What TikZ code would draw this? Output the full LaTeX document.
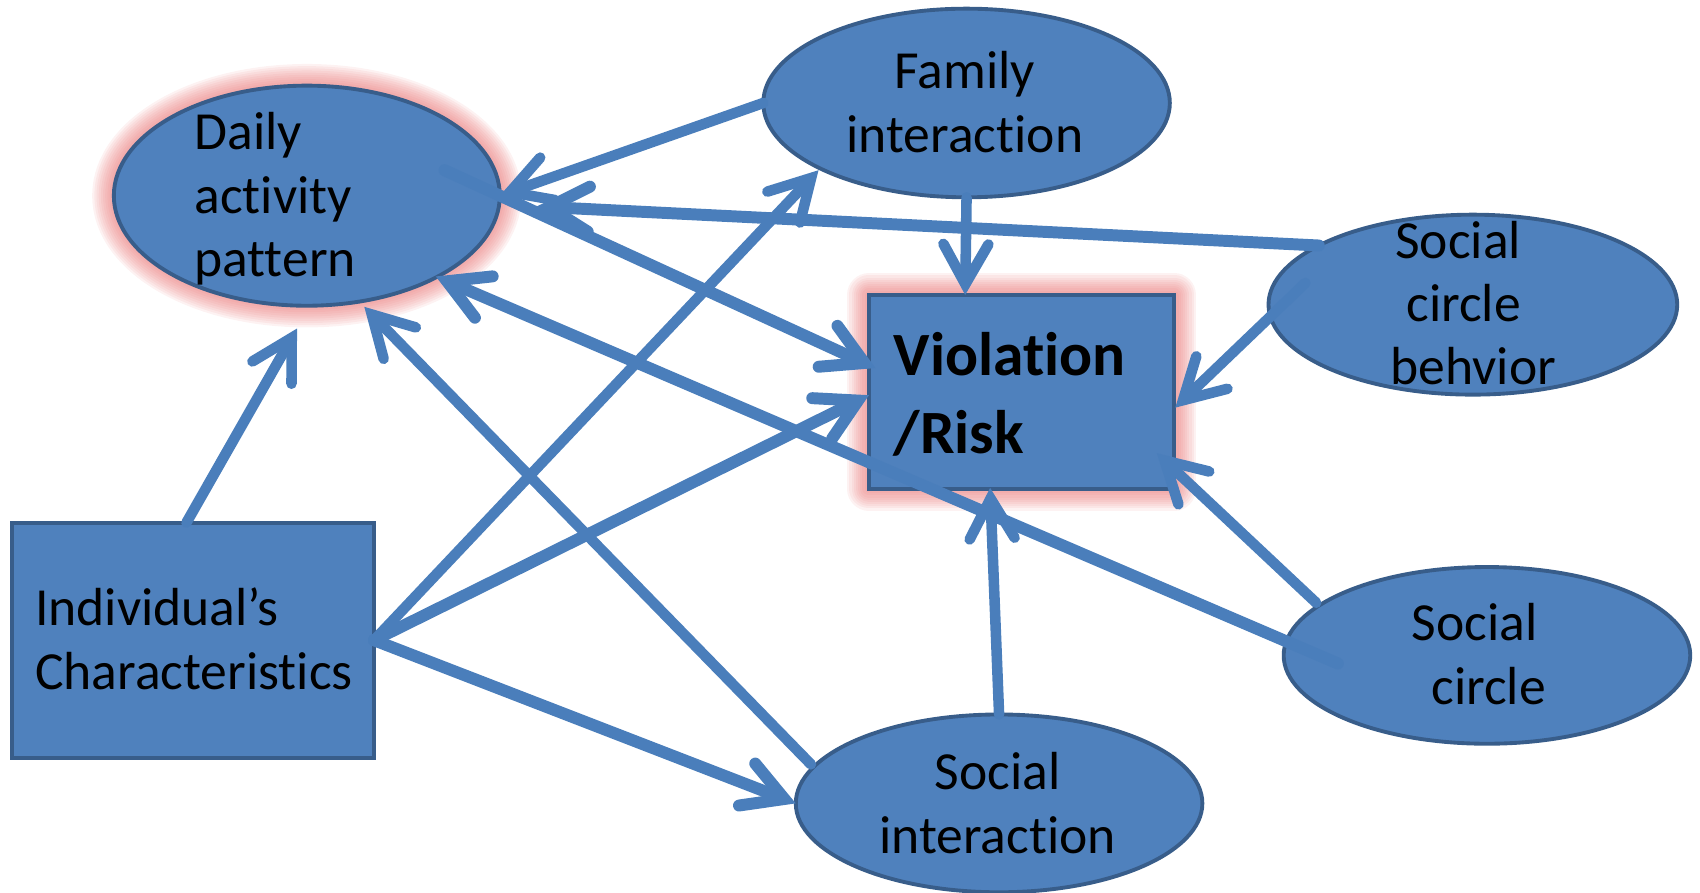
\documentclass[tikz,border=0pt]{standalone}
\usepackage{fontspec}
\setmainfont{Carlito}[Ligatures=NoCommon]
\usetikzlibrary{arrows.meta,shapes.geometric,calc}
\pgfdeclarelayer{background}
\pgfsetlayers{background,main}
\definecolor{nodefill}{HTML}{4F81BD}
\definecolor{nodeline}{HTML}{385D8A}
\definecolor{linkblue}{HTML}{4A7EBB}
\definecolor{glowred}{HTML}{E87070}
\def\U{0.021684cm}
\tikzset{
  ell/.style={ellipse, draw=nodeline, fill=nodefill, line width=2.2pt, inner sep=0pt, outer sep=0pt},
  boxnode/.style={rectangle, draw=nodeline, fill=nodefill, line width=2.2pt, inner sep=0pt, outer sep=0pt},
  txt/.style={font=\fontsize{30.5}{36}\selectfont, text=black, inner sep=0pt},
  btxt/.style={font=\fontsize{35}{43}\selectfont\bfseries, text=black, inner sep=0pt},
  link/.style={draw=linkblue, line width=6pt, line cap=round,
    -{Straight Barb[length=0.8cm, width=0.9cm, line cap=round, line join=miter]}},
  thicklink/.style={link, line width=6.8pt},
  glowline/.style={draw=glowred, line join=round}
}
\begin{document}
\begin{tikzpicture}[x=0.021684cm, y=-0.021684cm]
\path[use as bounding box] (0,0) rectangle (1568,823);

% shapes
\node[ell, minimum width=356*\U, minimum height=203*\U] (daily) at (283,180.5) {};
\node[ell, minimum width=375*\U, minimum height=174*\U] (family) at (891.5,95) {};
\node[ell, minimum width=377*\U, minimum height=166*\U] (scb) at (1358.5,281) {};
\node[ell, minimum width=375*\U, minimum height=163*\U] (sc) at (1371.5,604.5) {};
\node[ell, minimum width=375*\U, minimum height=164*\U] (si) at (921.5,741) {};
\node[boxnode, minimum width=281.5*\U, minimum height=179*\U] (viol) at (942.25,361.5) {};
\node[boxnode, minimum width=334*\U, minimum height=217*\U] (indiv) at (178,590.5) {};

% glow
\begin{pgfonlayer}{background}
\foreach \w in {40,36,32,28,24,20,16,12,8,4}{
  \draw[glowline, line width=\w*\U, opacity=0.09] (daily.center) ellipse [x radius=178, y radius=101.5];
  \draw[glowline, line width=\w*\U, opacity=0.09] (viol.south west) rectangle (viol.north east);
}
\end{pgfonlayer}

% connectors
\draw[link] ($(indiv.north)+(-6,0)$) -- ($(daily.south)+(-9,21)$);
\draw[link] (family.west) -- (daily.east);
\draw[thicklink] (scb.159) -- ($(daily.east)+(34,10)$);
\draw[thicklink] ($(daily.center)+(127,-23.5)$) -- ($(viol.west)+(6,-22)$);
\draw[link] (family.south) -- ($(viol.north)+(-52,0)$);
\draw[link] ($(scb.center)+(-154.5,-20)$) -- ($(viol.east)+(1,14.5)$);
\draw[link] ($(sc.center)+(-157.5,-48.5)$) -- ($(viol.south east)+(-16,-33)$);
\draw[thicklink] ($(sc.center)+(-137.5,7.5)$) -- ($(daily.center)+(119,74.5)$);
\draw[link] ($(si.center)+(-173.5,-36)$) -- ($(daily.south)+(53,1)$);
\draw[link] (indiv.east) -- ($(family.center)+(-136.5,62)$);
\draw[thicklink] (indiv.east) -- ($(viol.west)+(0,3)$);
\draw[thicklink] (indiv.east) -- (si.west);
\draw[link] (si.north) -- ($(viol.south)+(-29,-1)$);

% texts
\node[txt, anchor=base west] (dailyA) at (179,138) {Daily};
\node[txt, anchor=base west] (dailyB) at (179,197) {activity};
\node[txt, anchor=base west] (dailyC) at (179,255) {pattern};
\node[txt, anchor=base] (familyA) at (890,82) {Family};
\node[txt, anchor=base] (familyB) at (890,141) {interaction};
\node[btxt, anchor=base west] (violA) at (824,346) {Violation};
\node[btxt, anchor=base west] (violB) at (824,418) {/Risk};
\node[txt, anchor=base] (scbA) at (1345,238) {Social};
\node[txt, anchor=base] (scbB) at (1350,297) {circle};
\node[txt, anchor=base] (scbC) at (1359,355) {behvior};
\node[txt, anchor=base west] (indivA) at (32,577) {Individual’s};
\node[txt, anchor=base west] (indivB) at (32,636) {Characteristics};
\node[txt, anchor=base] (siA) at (920,728) {Social};
\node[txt, anchor=base] (siB) at (920,787) {interaction};
\node[txt, anchor=base] (scA) at (1360,591) {Social};
\node[txt, anchor=base] (scB) at (1373,650) {circle};
\end{tikzpicture}
\end{document}
